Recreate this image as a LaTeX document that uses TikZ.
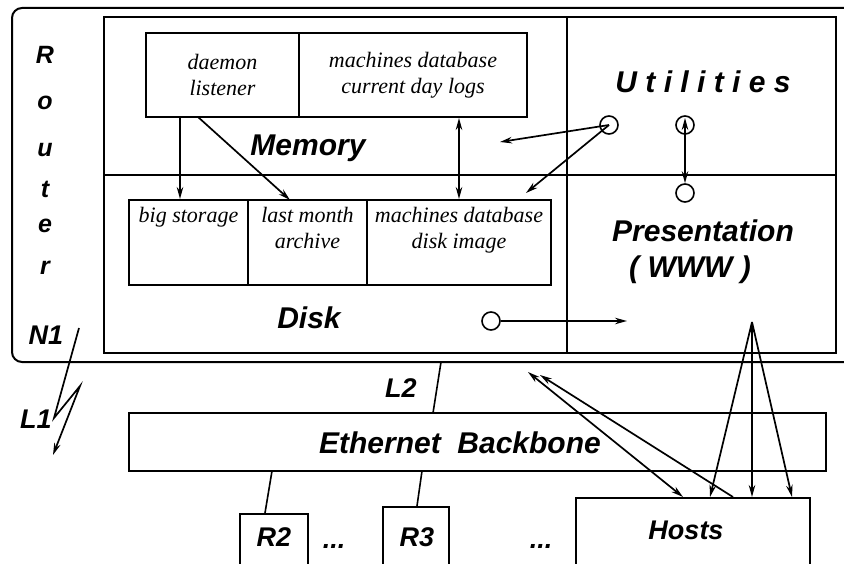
\documentclass[tikz,border=0pt]{standalone}
\usepackage{fontspec}
\setmainfont{Liberation Serif}
\setsansfont{Liberation Sans}
\usetikzlibrary{positioning,arrows.meta}
\tikzset{
    biglbl/.style={font=\sffamily\bfseries\itshape\fontsize{30}{34}\selectfont,inner sep=0},
    midlbl/.style={font=\sffamily\bfseries\itshape\fontsize{27}{30}\selectfont,inner sep=0},
    routerlbl/.style={font=\sffamily\bfseries\itshape\fontsize{25}{27}\selectfont,inner sep=0,anchor=base},
    cellbox/.style={draw,line width=2pt,inner sep=0},
    celltxt/.style={font=\itshape\fontsize{22}{26}\selectfont,align=center,inner sep=0},
    dot/.style={circle,draw,line width=1.6pt,minimum size=18pt,inner sep=0},
    link/.style={line width=1.6pt},
    flow/.style={line width=1.7pt,->},
    flows/.style={line width=1.7pt,<->}
}

\begin{document}
\begin{tikzpicture}[x=1pt,y=-1pt,>={Stealth[length=12pt,width=6.5pt]}]
    \clip (0,0) rectangle (844,564);
    \fill[white] (0,0) rectangle (844,564);
    % router and the four areas
    \draw[line width=2pt,rounded corners=10pt] (12,8) rectangle (880,362);
    \draw[line width=2pt] (104,17) rectangle (836,353);
    \draw[line width=2pt] (567,17) -- (567,353);
    \draw[line width=2pt] (104,175) -- (836,175);

    \node[cellbox,minimum width=153,minimum height=84] (daemon) at (222.5,75) {};
    \node[celltxt] (daemontxt) at (daemon.center) {daemon\\listener};
    \node[cellbox,minimum width=228,minimum height=84] (memdb) at (413,75) {};
    \node[celltxt] (memdbtxt) at (memdb.center) {machines database\\current day logs};

    \node[cellbox,minimum width=119,minimum height=85] (bigstore) at (188.5,242.5) {};
    \node[celltxt,anchor=north] (bigstoretxt) at (188.5,207) {big storage};
    \node[cellbox,minimum width=119,minimum height=85] (lastmonth) at (307.5,242.5) {};
    \node[celltxt,anchor=north] (lastmonthtxt) at (307.5,207) {last month\\archive};
    \node[cellbox,minimum width=184,minimum height=85] (diskdb) at (459,242.5) {};
    \node[celltxt,anchor=north] (diskdbtxt) at (459,207) {machines database\\disk image};

    \node[biglbl] (memory) at (308,148) {Memory};
    \node[biglbl] (disk) at (309,318) {Disk};
    \node[biglbl] (utils) at (703,82) {U t i l i t i e s};
    \node[biglbl] (present) at (703,231) {Presentation};
    \node[biglbl] (www) at (690,270) {( WWW )};

    \foreach \ch/\yy [count=\i] in {R/64,o/110,u/157,t/198,e/233,r/275}
        \node[routerlbl] (rt\i) at (45,\yy) {\ch};

    \node[dot] (c1) at (609,125) {};
    \node[dot] (c2) at (685,125) {};
    \node[dot] (c3) at (685,193) {};
    \node[dot] (c4) at (491,321) {};
    \coordinate (m1) at (500,142);
    \coordinate (m2) at (526,193);
    \coordinate (p1) at (627,321);
    \coordinate (c2tip) at (685,118);

    \draw[flow] (daemon.south -| 180,0) -- (bigstore.north -| 180,0);
    \draw[flow] (198,117) -- (290,200);
    \draw[flows] (memdb.south -| 459,0) -- (diskdb.north);
    \draw[flow] (c1.center) -- (m1);
    \draw[flow] (c1.center) -- (m2);
    \draw[flows] (c2tip) -- (c3.north);
    \draw[flow] (c4.east) -- (p1);

    % network below the router
    \node[midlbl] (n1) at (46,335) {N1};
    \node[midlbl] (l1) at (36,419) {L1};
    \node[midlbl] (l2) at (401,388) {L2};
    \coordinate (z0) at (79,328);
    \coordinate (z1) at (54,418);
    \coordinate (z2) at (80,386);
    \coordinate (z3) at (53,455);
    \draw[flow] (z0) -- (z1) -- (z2) -- (z3);

    \node[draw,line width=1.6pt,minimum width=697,minimum height=58,inner sep=0] (ether) at (477.5,442) {};
    \node[biglbl] (ethertxt) at (460,443) {Ethernet\ \ Backbone};
    \coordinate (rtbot) at (441,362);
    \draw[link] (rtbot) -- (433,413);

    \node[draw,line width=1.6pt,minimum width=68,minimum height=100,inner sep=0,anchor=north] (r2) at (274,513) {};
    \node[draw,line width=1.6pt,minimum width=66,minimum height=100,inner sep=0,anchor=north] (r3) at (416,506) {};
    \node[draw,line width=1.6pt,minimum width=234,minimum height=100,inner sep=0,anchor=north] (hosts) at (693,497) {};
    \node[midlbl] (r2txt) at (274,537) {R2};
    \node[midlbl] (r3txt) at (417,537) {R3};
    \node[midlbl] (hoststxt) at (686,530) {Hosts};
    \node[midlbl] (dots1) at (334,546) {...};
    \node[midlbl] (dots2) at (541,546) {...};
    \draw[link] (272,471) -- (r2.north -| 265,0);
    \draw[link] (422,471) -- (r3.north -| 417,0);

    \coordinate (ha) at (528,372);
    \coordinate (hb) at (540,375);
    \coordinate (apex) at (752,322);
    \draw[flows] (ha) -- (hosts.north -| 683,0);
    \draw[flow] (hosts.north -| 733,0) -- (hb);
    \draw[flows] (apex) -- (hosts.north -| 752,0);
    \draw[flow] (apex) -- (hosts.north -| 710,0);
    \draw[flow] (apex) -- (hosts.north -| 792,0);
\end{tikzpicture}
\end{document}
